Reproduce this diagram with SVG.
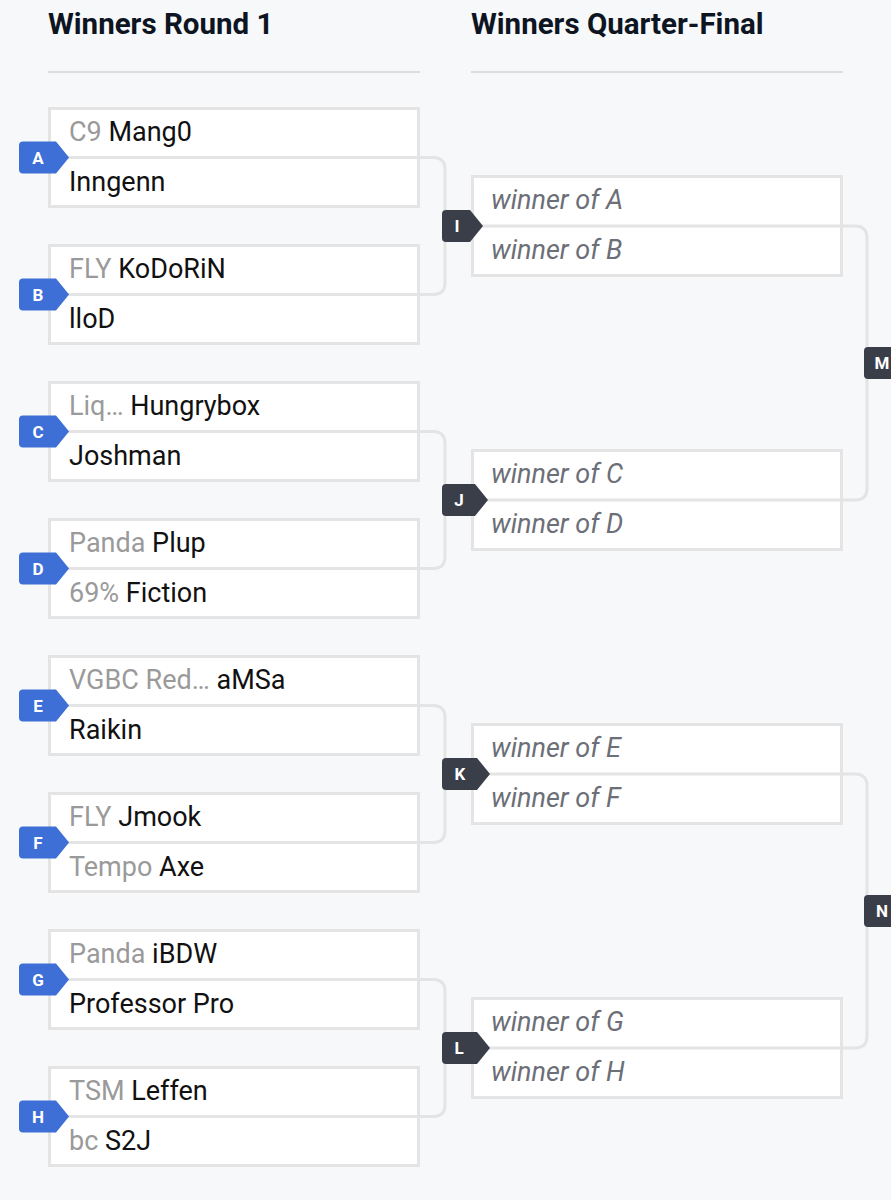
<svg xmlns="http://www.w3.org/2000/svg" width="891" height="1200" viewBox="0 0 891 1200">
<style>
.bg{fill:#f7f8fa}
.box{fill:#fff;stroke:#e4e4e5;stroke-width:3}
.div{stroke:#e4e4e5;stroke-width:3}
.hd{font-family:Roboto,"Liberation Sans",sans-serif;font-weight:700;font-size:29.5px;fill:#0d1522}
.hl{stroke:#dcdde0;stroke-width:2}
.t{font-family:Roboto,"Liberation Sans",sans-serif;font-size:27px;fill:#111}
.p{fill:#9a9a9a}
.w{font-family:Roboto,"Liberation Sans",sans-serif;font-size:27px;font-style:italic;fill:#6c6f77}
.con{fill:none;stroke:#e4e4e5;stroke-width:3}
.bb{fill:#3d6fd6}
.bd{fill:#393e49}
.bl{font-family:Roboto,"Liberation Sans",sans-serif;font-weight:700;font-size:17px;fill:#fff;text-anchor:middle}
</style>
<rect class="bg" x="0" y="0" width="891" height="1200"/>
<g id="headers">
<text class="hd" x="48" y="34">Winners Round 1</text>
<line class="hl" x1="48" y1="72" x2="420" y2="72"/>
<text class="hd" x="471" y="34">Winners Quarter-Final</text>
<line class="hl" x1="471" y1="72" x2="843" y2="72"/>
</g>
<g id="connectors">
<path class="con" d="M420,157.5 H433 Q445,157.5 445,169.5 V282.5 Q445,294.5 433,294.5 H420"/>
<path class="con" d="M420,431.5 H433 Q445,431.5 445,443.5 V556.5 Q445,568.5 433,568.5 H420"/>
<path class="con" d="M420,705.5 H433 Q445,705.5 445,717.5 V830.5 Q445,842.5 433,842.5 H420"/>
<path class="con" d="M420,979.5 H433 Q445,979.5 445,991.5 V1104.5 Q445,1116.5 433,1116.5 H420"/>
<path class="con" d="M843,226 H855 Q867,226 867,238 V488 Q867,500 855,500 H843"/>
<path class="con" d="M843,774 H855 Q867,774 867,786 V1036 Q867,1048 855,1048 H843"/>
</g>
<g id="A">
<rect class="box" x="49.5" y="108.5" width="369" height="98"/>
<line class="div" x1="49.5" y1="157.5" x2="418.5" y2="157.5"/>
<text class="t" x="69" y="141"><tspan class="p">C9</tspan> Mang0</text>
<text class="t" x="69" y="191">Inngenn</text>
<path class="bb" d="M23,141.5 H56 L69,157.5 L56,173.5 H23 Q19,173.5 19,169.5 V145.5 Q19,141.5 23,141.5 Z"/>
<text class="bl" x="38" y="163.5">A</text>
</g>
<g id="B">
<rect class="box" x="49.5" y="245.5" width="369" height="98"/>
<line class="div" x1="49.5" y1="294.5" x2="418.5" y2="294.5"/>
<text class="t" x="69" y="278"><tspan class="p">FLY</tspan> KoDoRiN</text>
<text class="t" x="69" y="328">lloD</text>
<path class="bb" d="M23,278.5 H56 L69,294.5 L56,310.5 H23 Q19,310.5 19,306.5 V282.5 Q19,278.5 23,278.5 Z"/>
<text class="bl" x="38" y="300.5">B</text>
</g>
<g id="C">
<rect class="box" x="49.5" y="382.5" width="369" height="98"/>
<line class="div" x1="49.5" y1="431.5" x2="418.5" y2="431.5"/>
<text class="t" x="69" y="415"><tspan class="p">Liq…</tspan> Hungrybox</text>
<text class="t" x="69" y="465">Joshman</text>
<path class="bb" d="M23,415.5 H56 L69,431.5 L56,447.5 H23 Q19,447.5 19,443.5 V419.5 Q19,415.5 23,415.5 Z"/>
<text class="bl" x="38" y="437.5">C</text>
</g>
<g id="D">
<rect class="box" x="49.5" y="519.5" width="369" height="98"/>
<line class="div" x1="49.5" y1="568.5" x2="418.5" y2="568.5"/>
<text class="t" x="69" y="552"><tspan class="p">Panda</tspan> Plup</text>
<text class="t" x="69" y="602"><tspan class="p">69%</tspan> Fiction</text>
<path class="bb" d="M23,552.5 H56 L69,568.5 L56,584.5 H23 Q19,584.5 19,580.5 V556.5 Q19,552.5 23,552.5 Z"/>
<text class="bl" x="38" y="574.5">D</text>
</g>
<g id="E">
<rect class="box" x="49.5" y="656.5" width="369" height="98"/>
<line class="div" x1="49.5" y1="705.5" x2="418.5" y2="705.5"/>
<text class="t" x="69" y="689"><tspan class="p">VGBC Red…</tspan> aMSa</text>
<text class="t" x="69" y="739">Raikin</text>
<path class="bb" d="M23,689.5 H56 L69,705.5 L56,721.5 H23 Q19,721.5 19,717.5 V693.5 Q19,689.5 23,689.5 Z"/>
<text class="bl" x="38" y="711.5">E</text>
</g>
<g id="F">
<rect class="box" x="49.5" y="793.5" width="369" height="98"/>
<line class="div" x1="49.5" y1="842.5" x2="418.5" y2="842.5"/>
<text class="t" x="69" y="826"><tspan class="p">FLY</tspan> Jmook</text>
<text class="t" x="69" y="876"><tspan class="p">Tempo</tspan> Axe</text>
<path class="bb" d="M23,826.5 H56 L69,842.5 L56,858.5 H23 Q19,858.5 19,854.5 V830.5 Q19,826.5 23,826.5 Z"/>
<text class="bl" x="38" y="848.5">F</text>
</g>
<g id="G">
<rect class="box" x="49.5" y="930.5" width="369" height="98"/>
<line class="div" x1="49.5" y1="979.5" x2="418.5" y2="979.5"/>
<text class="t" x="69" y="963"><tspan class="p">Panda</tspan> iBDW</text>
<text class="t" x="69" y="1013">Professor Pro</text>
<path class="bb" d="M23,963.5 H56 L69,979.5 L56,995.5 H23 Q19,995.5 19,991.5 V967.5 Q19,963.5 23,963.5 Z"/>
<text class="bl" x="38" y="985.5">G</text>
</g>
<g id="H">
<rect class="box" x="49.5" y="1067.5" width="369" height="98"/>
<line class="div" x1="49.5" y1="1116.5" x2="418.5" y2="1116.5"/>
<text class="t" x="69" y="1100"><tspan class="p">TSM</tspan> Leffen</text>
<text class="t" x="69" y="1150"><tspan class="p">bc</tspan> S2J</text>
<path class="bb" d="M23,1100.5 H56 L69,1116.5 L56,1132.5 H23 Q19,1132.5 19,1128.5 V1104.5 Q19,1100.5 23,1100.5 Z"/>
<text class="bl" x="38" y="1122.5">H</text>
</g>
<g id="I">
<rect class="box" x="472.5" y="176.5" width="369" height="99"/>
<line class="div" x1="472.5" y1="226" x2="841.5" y2="226"/>
<text class="w" x="491" y="209">winner of A</text>
<text class="w" x="491" y="259">winner of B</text>
<path class="bd" d="M446,210 H470 L483,226 L470,242 H446 Q442,242 442,238 V214 Q442,210 446,210 Z"/>
<text class="bl" x="457" y="232">I</text>
</g>
<g id="J">
<rect class="box" x="472.5" y="450.5" width="369" height="99"/>
<line class="div" x1="472.5" y1="500" x2="841.5" y2="500"/>
<text class="w" x="491" y="483">winner of C</text>
<text class="w" x="491" y="533">winner of D</text>
<path class="bd" d="M446,484 H475 L488,500 L475,516 H446 Q442,516 442,512 V488 Q442,484 446,484 Z"/>
<text class="bl" x="459" y="506">J</text>
</g>
<g id="K">
<rect class="box" x="472.5" y="724.5" width="369" height="99"/>
<line class="div" x1="472.5" y1="774" x2="841.5" y2="774"/>
<text class="w" x="491" y="757">winner of E</text>
<text class="w" x="491" y="807">winner of F</text>
<path class="bd" d="M446,758 H477 L490,774 L477,790 H446 Q442,790 442,786 V762 Q442,758 446,758 Z"/>
<text class="bl" x="460" y="780">K</text>
</g>
<g id="L">
<rect class="box" x="472.5" y="998.5" width="369" height="99"/>
<line class="div" x1="472.5" y1="1048" x2="841.5" y2="1048"/>
<text class="w" x="491" y="1031">winner of G</text>
<text class="w" x="491" y="1081">winner of H</text>
<path class="bd" d="M446,1032 H477 L490,1048 L477,1064 H446 Q442,1064 442,1060 V1036 Q442,1032 446,1032 Z"/>
<text class="bl" x="459" y="1054">L</text>
</g>
<g id="M">
<path class="bd" d="M868,347 H900 V379 H868 Q864,379 864,375 V351 Q864,347 868,347 Z"/>
<text class="bl" x="882" y="369">M</text>
</g>
<g id="N">
<path class="bd" d="M868,895 H900 V927 H868 Q864,927 864,923 V899 Q864,895 868,895 Z"/>
<text class="bl" x="882" y="917">N</text>
</g>
</svg>
